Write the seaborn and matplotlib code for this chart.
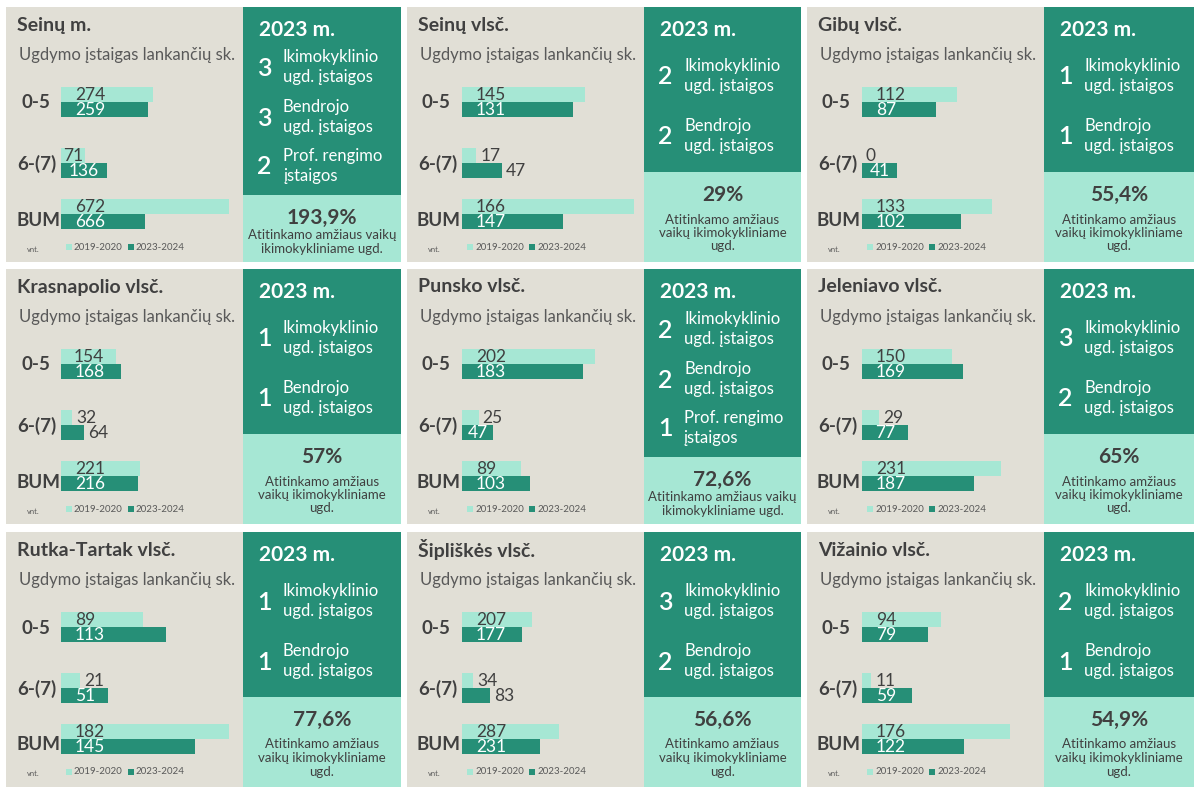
import matplotlib
matplotlib.use("Agg")
import matplotlib.pyplot as plt
from matplotlib.patches import Rectangle
import pandas as pd
import seaborn as sns

areas = ["Seinų m.", "Seinų vlsč.", "Gibų vlsč.",
         "Krasnapolio vlsč.", "Punsko vlsč.", "Jeleniavo vlsč.",
         "Rutka-Tartak vlsč.", "Šipliškės vlsč.", "Vižainio vlsč."]
age_groups = ["0-5", "6-(7)", "BUM"]
periods = ["2019-2020", "2023-2024"]
vals_2019 = [[274, 71, 672], [145, 17, 166], [112, 0, 133],
             [154, 32, 221], [202, 25, 89], [150, 29, 231],
             [89, 21, 182], [207, 34, 287], [94, 11, 176]]
vals_2023 = [[259, 136, 666], [131, 47, 147], [87, 41, 102],
             [168, 64, 216], [183, 47, 103], [169, 77, 187],
             [113, 51, 145], [177, 83, 231], [79, 59, 122]]
preschool_n = [3, 2, 1, 1, 2, 3, 1, 3, 2]
general_n = [3, 2, 1, 1, 2, 2, 1, 2, 1]
vocational_n = [2, 0, 0, 0, 1, 0, 0, 0, 0]
coverage = [193.9, 29, 55.4, 57, 72.6, 65, 77.6, 56.6, 54.9]

# axis scales of the original small charts (px per unit, BUM axis minimum)
top_scale = [0.336, 0.85, 0.85, 0.357, 0.66, 0.60, 0.925, 0.337, 0.84]
bum_scale = [14.0, 3.74, 0.975, 0.357, 0.66, 0.60, 0.925, 0.337, 0.84]
bum_min = [660, 120, 0, 0, 0, 0, 0, 0, 0]
# labels drawn past the bar end (panel, group, period)
outside = {(1, 1, 0), (1, 1, 1), (2, 1, 0), (3, 1, 0), (3, 1, 1), (4, 1, 0),
           (5, 1, 0), (6, 1, 0), (7, 1, 0), (7, 1, 1), (8, 1, 0)}

BEIGE = "#E1DFD6"
DARK = "#268F77"
LIGHT = "#A6E7D4"
TXT = "#404040"
SUB = "#595959"

sns.set_theme(style="white")
plt.rcParams["font.family"] = ["Lato", "DejaVu Sans"]

W, H = 1194, 787
fig = plt.figure(figsize=(W / 100, H / 100), dpi=100)
fig.patch.set_facecolor("white")
bg = fig.add_axes([0, 0, 1, 1])
bg.set_xlim(0, W)
bg.set_ylim(H, 0)
bg.set_axis_off()

col_x = [6, 407, 807]
row_y = [7, 269, 532]
box_right = [401, 801, 1194]
panel_h = 255
beige_w = 237
bar_w_px = 185
lbl_fs = 12.5


def px_axes(x, y, w, h):
    return fig.add_axes([x / W, 1 - (y + h) / H, w / W, h / H])


def fmt_pct(v):
    if float(v).is_integer():
        return f"{int(v)}%"
    return f"{v:.1f}%".replace(".", ",")


def label_bars(ax, i, gidx, xmin, scale):
    for j, cont in enumerate(ax.containers):
        for k, bar in enumerate(cont):
            g = gidx[k]
            val = bar.get_width()
            yc = bar.get_y() + bar.get_height() / 2
            s = str(int(round(val)))
            lw = len(s) * 0.58 * lbl_fs / 0.72
            blen = max(0, (val - xmin) * scale)
            if (i, g, j) in outside:
                off = blen + 4
                col = TXT
            else:
                off = min(14, max(0, (blen - lw) / 2))
                col = "white" if j == 1 else TXT
            ax.annotate(s, xy=(xmin, yc), xytext=(off * 0.72, -0.5),
                        textcoords="offset points", ha="left", va="center",
                        fontsize=lbl_fs, color=col, annotation_clip=False)


for i, area in enumerate(areas):
    r, c = divmod(i, 3)
    x0, y0 = col_x[c], row_y[r]
    bx = x0 + beige_w
    bw = box_right[c] - bx

    items = [(preschool_n[i], "Ikimokyklinio\nugd. įstaigos"),
             (general_n[i], "Bendrojo\nugd. įstaigos"),
             (vocational_n[i], "Prof. rengimo\nįstaigos")]
    items = [it for it in items if it[0] > 0]
    three = len(items) == 3
    dark_h = 188 if three else 165

    bg.add_patch(Rectangle((x0, y0), beige_w, panel_h, color=BEIGE, lw=0))
    bg.add_patch(Rectangle((bx, y0), bw, panel_h, color=LIGHT, lw=0))
    bg.add_patch(Rectangle((bx, y0), bw, dark_h, color=DARK, lw=0))

    # left side texts
    bg.text(x0 + 11, y0 + 18, area, fontsize=14, fontweight="bold",
            color=TXT, va="center", ha="left")
    bg.text(x0 + 13, y0 + 48, "Ugdymo įstaigas lankančių sk.", fontsize=12,
            color=SUB, va="center", ha="left")
    for lab, dx, dy in zip(age_groups, [15, 11, 10], [96, 157, 213]):
        bg.text(x0 + dx, y0 + dy, lab, fontsize=13.5, fontweight="bold",
                color=TXT, va="center", ha="left")
    bg.text(x0 + 21, y0 + 242, "vnt.", fontsize=5.5, color=SUB,
            va="center", ha="left")
    for k, (p, col) in enumerate(zip(periods, [LIGHT, DARK])):
        lx = x0 + 60 + k * 62
        bg.add_patch(Rectangle((lx, y0 + 237), 6, 6, color=col, lw=0))
        bg.text(lx + 8, y0 + 240, p, fontsize=7, color=SUB,
                va="center", ha="left")

    # right box
    bg.text(bx + 16, y0 + 23, "2023 m.", fontsize=15, fontweight="bold",
            color="white", va="center", ha="left")
    centers = [60, 110, 159] if three else [69, 129]
    for (n, txt), cy in zip(items, centers):
        bg.text(bx + 21, y0 + cy + 1, str(n), fontsize=18, color="white",
                va="center", ha="center", fontweight="semibold")
        bg.text(bx + 40, y0 + cy, txt, fontsize=12, color="white",
                va="center", ha="left", linespacing=1.3)
    mid = bx + bw / 2
    if three:
        bg.text(mid, y0 + 211, fmt_pct(coverage[i]), fontsize=15,
                fontweight="bold", color=TXT, va="center", ha="center")
        bg.text(mid, y0 + 235, "Atitinkamo amžiaus vaikų\nikimokykliniame ugd.",
                fontsize=9.5, color=TXT, va="center", ha="center",
                linespacing=1.15)
    else:
        bg.text(mid, y0 + 188, fmt_pct(coverage[i]), fontsize=15,
                fontweight="bold", color=TXT, va="center", ha="center")
        bg.text(mid, y0 + 226, "Atitinkamo amžiaus\nvaikų ikimokykliniame\nugd.",
                fontsize=9.5, color=TXT, va="center", ha="center",
                linespacing=1.15)

    # bar charts
    df = pd.DataFrame({
        "group": age_groups * 2,
        "period": [p for p in periods for _ in age_groups],
        "value": vals_2019[i] + vals_2023[i],
    })

    ax_top = px_axes(x0 + 55, y0 + 64.5, bar_w_px, 122)
    top_groups = age_groups[:2]
    sns.barplot(data=df[df["group"].isin(top_groups)], y="group", x="value",
                hue="period", order=top_groups, hue_order=periods,
                palette=[LIGHT, DARK], saturation=1, width=0.49,
                orient="h", legend=False, linewidth=0, ax=ax_top)
    ax_top.set_xlim(0, bar_w_px / top_scale[i])
    ax_top.set_ylim(1.5, -0.5)
    ax_top.set_axis_off()
    label_bars(ax_top, i, [0, 1], 0, top_scale[i])

    ax_bum = px_axes(x0 + 55, y0 + 176.5, bar_w_px, 61)
    sns.barplot(data=df[df["group"] == "BUM"], y="group", x="value",
                hue="period", order=["BUM"], hue_order=periods,
                palette=[LIGHT, DARK], saturation=1, width=0.49,
                orient="h", legend=False, linewidth=0, ax=ax_bum)
    ax_bum.set_xlim(bum_min[i], bum_min[i] + bar_w_px / bum_scale[i])
    ax_bum.set_ylim(0.5, -0.5)
    ax_bum.set_axis_off()
    label_bars(ax_bum, i, [2], bum_min[i], bum_scale[i])

fig.savefig("out.png", dpi=100)
